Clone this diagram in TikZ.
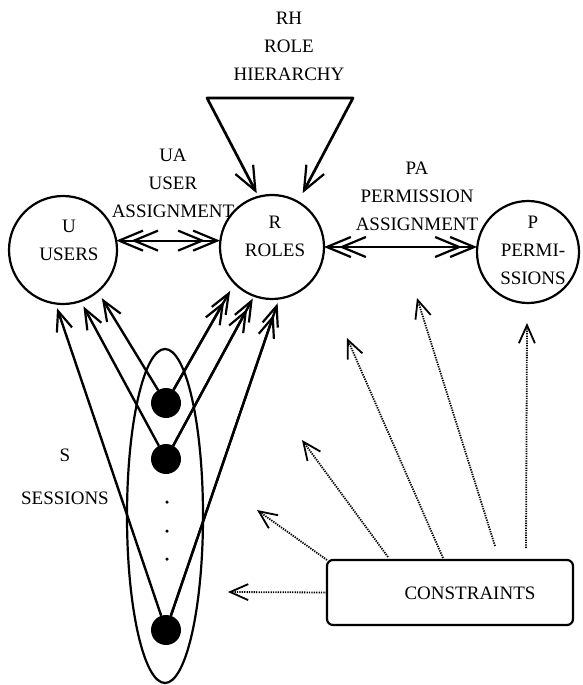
\documentclass[tikz,border=0pt]{standalone}
\usepackage{fontspec}
\setmainfont{Liberation Serif}
\usetikzlibrary{arrows.meta,shapes.geometric,calc}
\begin{document}
\begin{tikzpicture}[x=1pt,y=-1pt,
  every node/.style={font=\fontsize{19pt}{28pt}\selectfont, inner sep=0pt, outer sep=0pt},
  lbl/.style={align=center},
  setc/.style={draw, circle, line width=2.2pt, minimum size=#1},
  dotn/.style={circle, fill=black, minimum size=30pt},
  tinydot/.style={circle, fill=black, minimum size=3.5pt},
  chev/.tip={Straight Barb[length=24pt,width=20pt,line width=2.2pt]},
  chevs/.tip={Straight Barb[length=20pt,width=16pt,line width=2.2pt]},
  chevd/.tip={Straight Barb[length=18pt,width=16pt,line width=1.8pt]},
  sline/.style={line width=2.4pt},
  dbl/.style={line width=2pt, {chev}-{chev},
    postaction={draw, {chev}-{chev}, shorten <=15pt, shorten >=15pt}},
  rdbl/.style={-{chevs}, shorten >=#1,
    postaction={draw, -{chevs}, shorten >=#1+12pt}},
  dotarrow/.style={line width=1.8pt, dash pattern=on 1.3pt off 1.1pt, -{chevd}}
]
\useasboundingbox (0,0) rectangle (582,685);

% the three sets
\node[setc=108pt] (u) at (63,250) {};
\node[setc=104pt] (r) at (272,247) {};
\node[setc=102pt] (p) at (528,252) {};
\node[lbl] (ut) at (69,240.5) {U\\USERS};
\node[lbl] (rt) at (275,236.5) {R\\ROLES};
\node[lbl] (pt) at (533,250.5) {P\\PERMI-\\SSIONS};

% relation labels
\node[lbl] (rh) at (289,46) {RH\\ROLE\\HIERARCHY};
\node[lbl] (ua) at (173,183.5) {UA\\USER\\ASSIGNMENT};
\node[lbl] (pa) at (417,196.5) {PA\\PERMISSION\\ASSIGNMENT};
\node[lbl] (st) at (65,476.5) {S\\[15pt]SESSIONS};

% role hierarchy
\coordinate (rha) at (207,98);
\coordinate (rhb) at (353,98);
\draw[line width=2.7pt, line join=round, {chev}-{chev}, shorten <=4pt, shorten >=10pt]
  (r.105) -- (rha) -- (rhb) -- (r.60);

% assignments
\draw[dbl] (u.10) -- (u.10 -| r.west);
\draw[dbl] (r.east) -- (r.east -| p.west);

% sessions
\node[draw, ellipse, line width=2.2pt, minimum width=76pt, minimum height=334pt] (s) at (165,516) {};
\node[dotn] (d1) at (166,403) {};
\node[dotn] (d2) at (166,459) {};
\node[dotn] (d3) at (166,630) {};
\node[tinydot] (e1) at (167,502) {};
\node[tinydot] (e2) at (167,531) {};
\node[tinydot] (e3) at (167,559) {};

\draw[sline, -{chevs}, shorten >=8pt] (d1) -- (u.310);
\draw[sline, -{chevs}, shorten >=6pt] (d2) -- (u.289);
\draw[sline, -{chevs}, shorten >=5pt] (d3) -- (u.262);
\draw[sline, rdbl=9pt] (d1) -- (r.224);
\draw[sline, rdbl=3pt] (d2) -- (r.250);
\draw[sline, rdbl=5pt] (d3) -- (r.278);

% constraints
\node[draw, rounded corners=6pt, line width=2.2pt, minimum width=246pt, minimum height=65pt] (cons) at (450,592.5) {};
\node (ct) at (470,593) {CONSTRAINTS};

\coordinate (c1) at (228,592);
\coordinate (c2) at (257,510);
\coordinate (c3) at (302,440);
\coordinate (c4) at (347,338);
\coordinate (c5) at (417,298);
\coordinate (c6) at (527,323);
\draw[dotarrow] (cons.west) -- (c1);
\draw[dotarrow] (cons.north west) -- (c2);
\draw[dotarrow] ($(cons.north west)+(61,-3)$) -- (c3);
\draw[dotarrow] ($(cons.north west)+(116,-2)$) -- (c4);
\draw[dotarrow] ($(cons.north west)+(168,-14)$) -- (c5);
\draw[dotarrow] ($(cons.north west)+(199,-12)$) -- (c6);
\end{tikzpicture}
\end{document}
